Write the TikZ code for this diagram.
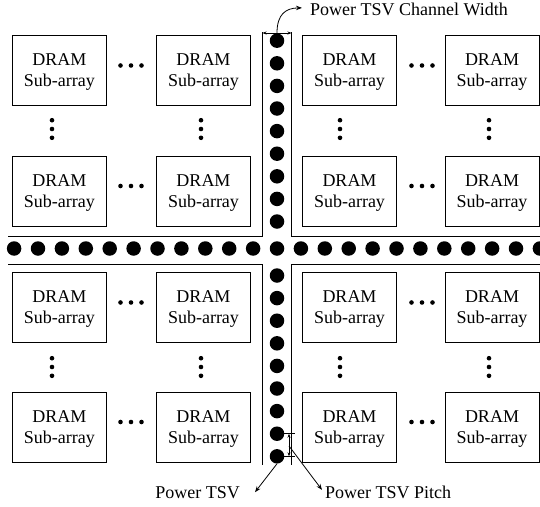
\documentclass[tikz,border=0pt]{standalone}
\usepackage{fontspec}
\setmainfont{Liberation Serif}
\usetikzlibrary{arrows.meta}
\begin{document}
\begin{tikzpicture}[x=1pt,y=-1pt,
  subarr/.style={draw, line width=0.9pt, minimum width=94pt, minimum height=70pt,
    inner sep=0pt, align=center, text depth=0pt, font=\fontsize{18}{21}\selectfont},
  tsv/.style={circle, fill=black, inner sep=0pt, minimum size=14.5pt},
  edot/.style={circle, fill=black, inner sep=0pt, minimum size=4.6pt},
  chan/.style={line width=1pt},
  lbl/.style={inner sep=0pt, font=\fontsize{18}{21}\selectfont},
  lead/.style={line width=0.8pt, -{Stealth[length=6pt,width=4.5pt]}},
  dimarr/.style={line width=0.6pt, {Stealth[length=4pt,width=3pt]}-{Stealth[length=4pt,width=3pt]}},
  tick/.style={line width=0.6pt}
]
\useasboundingbox (0,0) rectangle (540,506);

% sub-array boxes
\foreach \cx [count=\i] in {59.3,203.5,349.5,492}
  \foreach \cy [count=\j] in {70.5,191,307.5,427}
    \node[subarr] (b\j\i) at (\cx,\cy) {DRAM\\Sub-array};

% horizontal ellipses
\foreach \ex in {131,422}
  \foreach \ey in {65.5,186,302.5,422}
    \foreach \d in {-10.5,0,10.5}
      \node[edot] at ({\ex+\d},\ey) {};

% vertical ellipses
\foreach \vx in {52,201,340,489}
  \foreach \vy in {129,367}
    \foreach \d in {-8.8,0,8.8}
      \node[edot] at (\vx,{\vy+\d}) {};

% channel boundary lines
\draw[chan] (8,236) -- (262.5,236) -- (262.5,32);
\draw[chan] (540,236) -- (291.5,236) -- (291.5,32);
\draw[chan] (8,264) -- (262.5,264) -- (262.5,465);
\draw[chan] (540,264) -- (291.5,264) -- (291.5,465);

% power TSVs
\foreach \k in {-11,...,11}
  \node[tsv] (h\k) at ({277+23.9*\k},248.5) {};
\foreach \j in {1,...,9} {
  \node[tsv] (vt\j) at (277,{248.5-27-22.6*(\j-1)}) {};
  \node[tsv] (vb\j) at (277,{248.5+27+22.6*(\j-1)}) {};
}

% labels
\node[lbl, anchor=base west] (cwlbl) at (310,16) {Power TSV Channel Width};
\node[lbl, anchor=base east] (tsvlbl) at (240,498) {Power TSV};
\node[lbl, anchor=base west] (pitchlbl) at (325,498) {Power TSV Pitch};

% channel width dimension
\coordinate (cwL) at (262.5,33);
\coordinate (cwR) at (291.5,33);
\coordinate (cwM) at (277,33);
\draw[dimarr] (cwL) -- (cwR);
\coordinate (cwtip) at ([xshift=-8pt,yshift=2pt]cwlbl.west);
\draw[lead] (cwM) .. controls (277,14) and (286,8) .. (cwtip);

% pitch dimension
\coordinate (pt1) at (289,433.7);
\coordinate (pt2) at (289,456.3);
\draw[tick] (283,433.7) -- (295,433.7);
\draw[tick] (283,456.3) -- (295,456.3);
\draw[dimarr] (pt1) -- (pt2);
\coordinate (pmid) at (289,446);
\coordinate (pitchtip) at ([xshift=-3pt,yshift=2pt]pitchlbl.west);
\draw[lead] (pmid) -- (pitchtip);

% power TSV leader
\coordinate (tsvtip) at ([xshift=15pt]tsvlbl.east);
\draw[lead] (vb9.south) -- (tsvtip);
\end{tikzpicture}
\end{document}
